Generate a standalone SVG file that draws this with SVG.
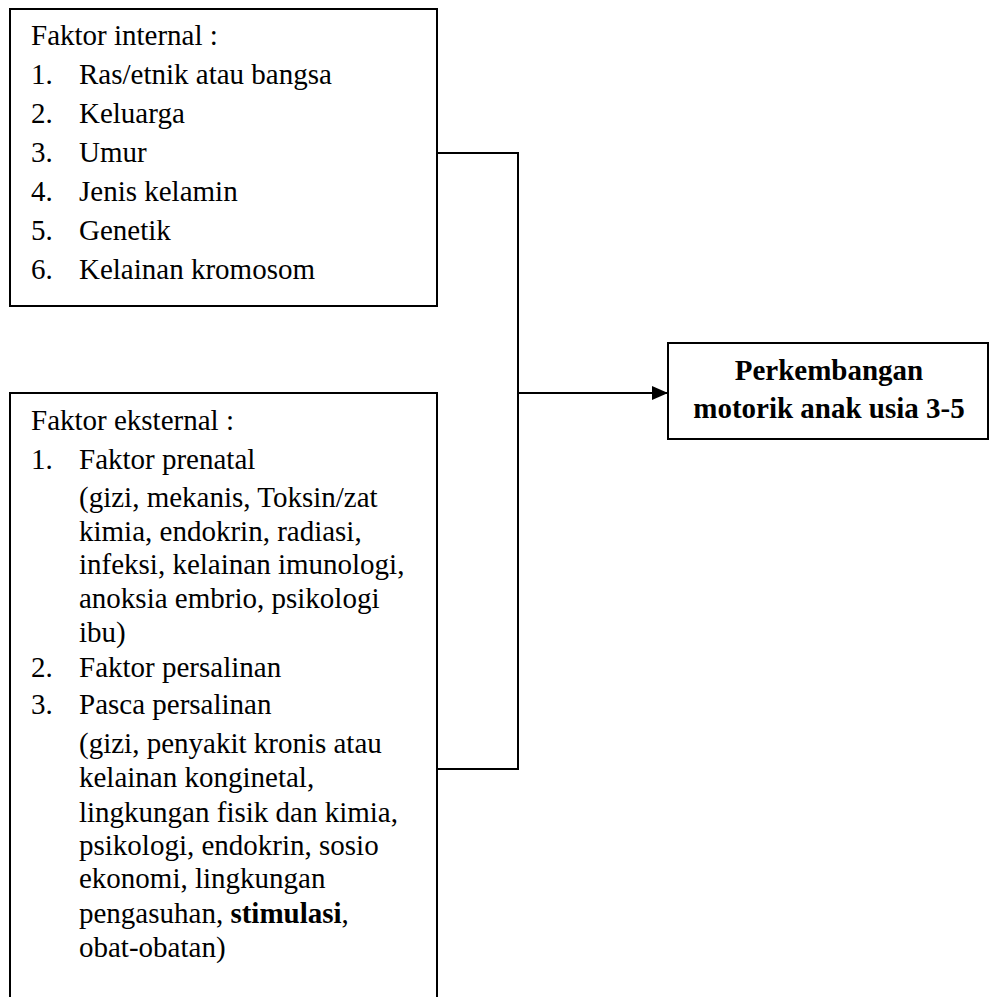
<svg xmlns="http://www.w3.org/2000/svg" width="990" height="997" viewBox="0 0 990 997">
<defs>
<style>
.box{fill:#fff;stroke:#000;stroke-width:2}
.t{font-family:"Liberation Serif","Times New Roman",serif;font-size:29px;fill:#000}
.b{font-weight:bold}
.c{fill:none;stroke:#000;stroke-width:2}
</style>
<marker id="arr" markerWidth="16" markerHeight="14" refX="15" refY="7" orient="auto" markerUnits="userSpaceOnUse">
<path d="M0,0 L16,7 L0,14 Z" fill="#000"/>
</marker>
</defs>
<rect width="990" height="997" fill="#fff"/>
<g id="connectors">
<polyline class="c" points="437,153 518,153 518,769 437,769"/>
<line class="c" x1="518" y1="393" x2="667" y2="393" marker-end="url(#arr)"/>
</g>
<g id="internal">
<rect class="box" x="10" y="9" width="427" height="297"/>
<text class="t" x="31" y="45">Faktor internal :</text>
<text class="t" x="31" y="84">1.</text><text class="t" x="79" y="84">Ras/etnik atau bangsa</text>
<text class="t" x="31" y="123">2.</text><text class="t" x="79" y="123">Keluarga</text>
<text class="t" x="31" y="162">3.</text><text class="t" x="79" y="162">Umur</text>
<text class="t" x="31" y="201">4.</text><text class="t" x="79" y="201">Jenis kelamin</text>
<text class="t" x="31" y="240">5.</text><text class="t" x="79" y="240">Genetik</text>
<text class="t" x="31" y="279">6.</text><text class="t" x="79" y="279">Kelainan kromosom</text>
</g>
<g id="eksternal">
<rect class="box" x="10" y="393" width="427" height="620"/>
<text class="t" x="31" y="430">Faktor eksternal :</text>
<text class="t" x="31" y="469">1.</text><text class="t" x="79" y="469">Faktor prenatal</text>
<text class="t" x="79" y="507">(gizi, mekanis, Toksin/zat</text>
<text class="t" x="79" y="541">kimia, endokrin, radiasi,</text>
<text class="t" x="79" y="574">infeksi, kelainan imunologi,</text>
<text class="t" x="79" y="608">anoksia embrio, psikologi</text>
<text class="t" x="79" y="642">ibu)</text>
<text class="t" x="31" y="677">2.</text><text class="t" x="79" y="677">Faktor persalinan</text>
<text class="t" x="31" y="714">3.</text><text class="t" x="79" y="714">Pasca persalinan</text>
<text class="t" x="79" y="753">(gizi, penyakit kronis atau</text>
<text class="t" x="79" y="787">kelainan konginetal,</text>
<text class="t" x="79" y="822">lingkungan fisik dan kimia,</text>
<text class="t" x="79" y="855">psikologi, endokrin, sosio</text>
<text class="t" x="79" y="888">ekonomi, lingkungan</text>
<text class="t" x="79" y="923">pengasuhan, <tspan class="b">stimulasi</tspan>,</text>
<text class="t" x="79" y="957">obat-obatan)</text>
</g>
<g id="perkembangan">
<rect class="box" x="668" y="343" width="320" height="96"/>
<text class="t b" x="829" y="380" text-anchor="middle">Perkembangan</text>
<text class="t b" x="829" y="418" text-anchor="middle">motorik anak usia 3-5</text>
</g>
</svg>
